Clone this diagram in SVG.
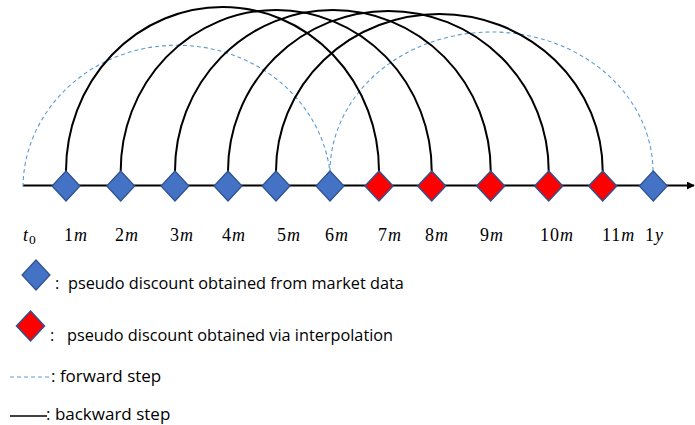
<svg xmlns="http://www.w3.org/2000/svg" width="695" height="425" viewBox="0 0 695 425">
  <defs>
    <style>
      .axis { stroke: #000; stroke-width: 2; fill: none; }
      .back { stroke: #000; stroke-width: 2; fill: none; }
      .fwd { stroke: #5B9BD5; stroke-width: 1.1; fill: none; stroke-dasharray: 4 3; }
      .mkt { fill: #4472C4; stroke: #2F528F; stroke-width: 1.2; }
      .itp { fill: #FF0000; stroke: #2F528F; stroke-width: 1.5; }
      .lbl { font-family: "Liberation Serif", "DejaVu Serif", serif; font-size: 18px; fill: #000; letter-spacing: 1px; }
      .lbl .v { font-style: italic; }
      .leg { font-family: "Open Sans", "Liberation Sans", sans-serif; font-size: 16.3px; fill: #000; }
      .leg2 { font-family: "Open Sans", "Liberation Sans", sans-serif; font-size: 17px; fill: #000; }
    </style>
    <marker id="arrow" viewBox="0 0 10 10" refX="9" refY="5" markerWidth="4" markerHeight="4" orient="auto" markerUnits="strokeWidth">
      <path d="M0,0 L10,5 L0,10 z" fill="#000"/>
    </marker>
    <path id="dia" d="M0,-15 L14,0 L0,15 L-14,0 z"/>
  </defs>

  <!-- time axis -->
  <line class="axis" x1="23" y1="185.5" x2="694" y2="185.5" marker-end="url(#arrow)"/>

  <!-- step arcs -->
  <g id="connectors">
    <path class="fwd" d="M23,187 A154,143 0 0 1 330,172"/>
    <path class="fwd" d="M330,172 A161.5,140 0 0 1 653,172"/>
    <path class="back" d="M66,171 A156.5,164 0 0 1 379,171"/>
    <path class="back" d="M120.7,171 A155.5,161 0 0 1 431.7,171"/>
    <path class="back" d="M175,171 A157.8,161 0 0 1 490.7,171"/>
    <path class="back" d="M228,171 A160.3,160 0 0 1 548.7,171"/>
    <path class="back" d="M276,171 A163.3,157 0 0 1 602.7,171"/>
  </g>

  <!-- grid points -->
  <g id="n1m"><use href="#dia" class="mkt" x="66" y="186"/></g>
  <g id="n2m"><use href="#dia" class="mkt" x="120.7" y="186"/></g>
  <g id="n3m"><use href="#dia" class="mkt" x="175" y="186"/></g>
  <g id="n4m"><use href="#dia" class="mkt" x="228" y="186"/></g>
  <g id="n5m"><use href="#dia" class="mkt" x="276" y="186"/></g>
  <g id="n6m"><use href="#dia" class="mkt" x="330" y="186"/></g>
  <g id="n7m"><use href="#dia" class="itp" x="379" y="186"/></g>
  <g id="n8m"><use href="#dia" class="itp" x="431.7" y="186"/></g>
  <g id="n9m"><use href="#dia" class="itp" x="490.7" y="186"/></g>
  <g id="n10m"><use href="#dia" class="itp" x="548.7" y="186"/></g>
  <g id="n11m"><use href="#dia" class="itp" x="602.7" y="186"/></g>
  <g id="n1y"><use href="#dia" class="mkt" x="653.3" y="186"/></g>

  <!-- tenor labels -->
  <g id="labels" class="lbl">
    <text x="23" y="241"><tspan class="v">t</tspan><tspan font-size="13.5" dy="3">0</tspan></text>
    <text x="64" y="241">1<tspan class="v">m</tspan></text>
    <text x="115" y="241">2<tspan class="v">m</tspan></text>
    <text x="170" y="241">3<tspan class="v">m</tspan></text>
    <text x="222" y="241">4<tspan class="v">m</tspan></text>
    <text x="277" y="241">5<tspan class="v">m</tspan></text>
    <text x="325" y="241">6<tspan class="v">m</tspan></text>
    <text x="378" y="241">7<tspan class="v">m</tspan></text>
    <text x="425" y="241">8<tspan class="v">m</tspan></text>
    <text x="480" y="241">9<tspan class="v">m</tspan></text>
    <text x="540" y="241">10<tspan class="v">m</tspan></text>
    <text x="602" y="241">11<tspan class="v">m</tspan></text>
    <text x="645" y="241">1<tspan class="v">y</tspan></text>
  </g>

  <!-- legend -->
  <g id="legend">
    <use href="#dia" class="mkt" x="36" y="275"/>
    <text class="leg" x="55" y="289">:</text>
    <text class="leg" x="68" y="289">pseudo discount obtained from market data</text>
    <use href="#dia" class="itp" x="30.5" y="326"/>
    <text class="leg" x="50" y="341">:</text>
    <text class="leg" x="67" y="341">pseudo discount obtained via interpolation</text>
    <line class="fwd" x1="10" y1="377" x2="50" y2="377"/>
    <text class="leg2" x="51" y="382">: forward step</text>
    <line class="back" x1="10" y1="416" x2="47" y2="416" style="stroke-width:1.3"/>
    <text class="leg2" x="46" y="420">: backward step</text>
  </g>
</svg>
